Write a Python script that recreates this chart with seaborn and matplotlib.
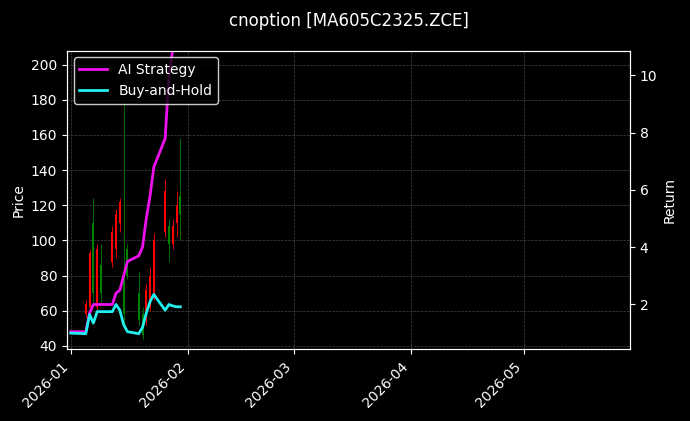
import matplotlib
matplotlib.use("Agg")
import matplotlib.pyplot as plt
import seaborn as sns
import pandas as pd
import numpy as np

plt.style.use("dark_background")
plt.rcParams['font.family'] = ['DejaVu Sans']
plt.rcParams['font.size'] = 10

dates = ["2026-01-05","2026-01-06","2026-01-07","2026-01-08","2026-01-09","2026-01-12","2026-01-13",
         "2026-01-14","2026-01-15","2026-01-16","2026-01-19","2026-01-20","2026-01-21","2026-01-22",
         "2026-01-23","2026-01-26","2026-01-27","2026-01-28","2026-01-29","2026-01-30"]
opens  = [58, 62, 110, 62, 86, 88, 95, 110, 80, 95, 70, 58, 55, 62, 68, 105, 108, 98, 110, 125]
closes = [64, 93, 70, 95, 70, 105, 115, 122, 58, 80, 55, 46, 72, 80, 100, 128, 98, 108, 120, 115]
highs  = [66, 95, 124, 98, 98, 108, 118, 124, 180, 98, 82, 62, 76, 85, 104, 135, 112, 112, 128, 158]
lows   = [56, 58, 65, 58, 65, 85, 90, 105, 52, 78, 52, 44, 52, 60, 66, 102, 88, 95, 102, 100]

ret_dates = ["2026-01-01","2026-01-05","2026-01-06","2026-01-07","2026-01-08","2026-01-09","2026-01-12",
             "2026-01-13","2026-01-14","2026-01-15","2026-01-16","2026-01-19","2026-01-20","2026-01-21",
             "2026-01-22","2026-01-23","2026-01-26","2026-01-27","2026-01-28"]
ai_ret = [1.05, 1.05, 1.7, 2.0, 2.0, 2.0, 2.0, 2.4, 2.5, 3.0, 3.5, 3.7, 4.0, 5.0, 5.8, 6.8, 7.8, 10.0, 10.9]
bh_ret = [1.0, 0.98, 1.65, 1.35, 1.75, 1.75, 1.75, 2.0, 1.8, 1.3, 1.05, 0.98, 1.2, 1.7, 2.1, 2.35, 1.8, 2.0, 1.95]
bh_extra_dates = ["2026-01-29","2026-01-30"]
bh_extra = [1.92, 1.92]

fig, ax = plt.subplots(figsize=(6.9, 4.21), dpi=100)
fig.patch.set_facecolor("black")
ax.set_facecolor("black")
d = pd.to_datetime(dates)
for x, o, c, h, l in zip(d, opens, closes, highs, lows):
    col = "red" if c >= o else "green"
    ax.vlines(x, l, h, color=col, linewidth=0.6)
    ax.vlines(x, min(o, c), max(o, c), color=col, linewidth=1.5)
ax.set_ylim(38, 208)
ax.set_ylabel("Price")
ax.grid(True, color="#444444", linestyle="--", linewidth=0.5)

ax2 = ax.twinx()
df1 = pd.DataFrame({"date": pd.to_datetime(ret_dates), "ai": ai_ret})
df2 = pd.DataFrame({"date": pd.to_datetime(ret_dates + bh_extra_dates), "bh": bh_ret + bh_extra})
sns.lineplot(data=df1, x="date", y="ai", ax=ax2, color="#ee11ee", linewidth=2, label="AI Strategy", legend=False)
sns.lineplot(data=df2, x="date", y="bh", ax=ax2, color="#22eeee", linewidth=2, label="Buy-and-Hold", legend=False)
ax2.set_ylim(0.43, 10.87)
ax2.set_ylabel("Return")
ax2.set_xlabel("")
ax.set_xlim(pd.Timestamp("2025-12-31"), pd.Timestamp("2026-05-29"))
ticks = pd.to_datetime(["2026-01-01","2026-02-01","2026-03-01","2026-04-01","2026-05-01"])
ax.set_xticks(ticks)
ax.set_xticklabels([t.strftime("%Y-%m") for t in ticks], rotation=45, ha="right")
ax2.legend(loc="upper left", facecolor="black", edgecolor="white")
ax.set_title("cnoption [MA605C2325.ZCE]", fontsize=12, pad=18)
for a in (ax, ax2):
    for s in a.spines.values():
        s.set_color("white")
fig.subplots_adjust(left=0.097, right=0.913, top=0.88, bottom=0.17)
fig.savefig("out.png", dpi=100, facecolor="black")
